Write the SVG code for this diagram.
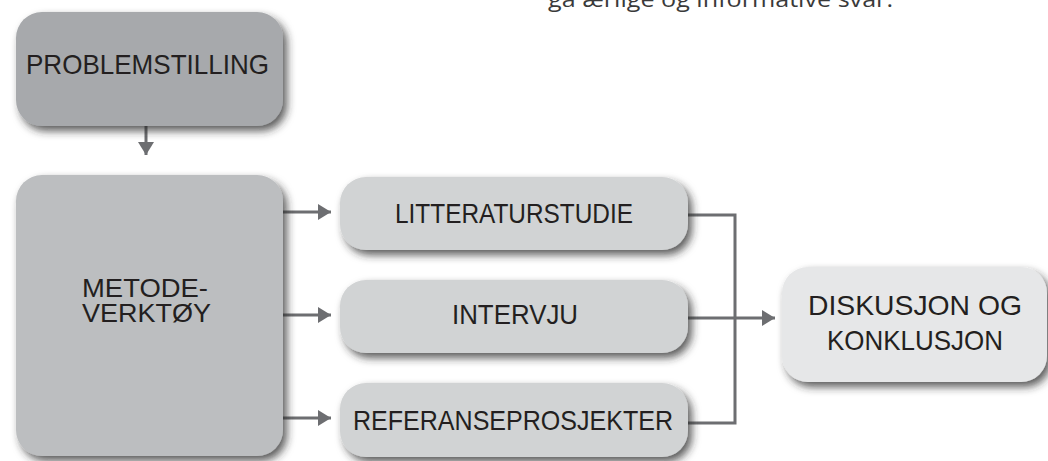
<svg xmlns="http://www.w3.org/2000/svg" width="1048" height="461" viewBox="0 0 1048 461">
<defs>
<filter id="sh" x="-10%" y="-10%" width="130%" height="140%">
<feDropShadow dx="4" dy="5" stdDeviation="4" flood-color="#2b2b2b" flood-opacity="0.75"/>
</filter>
<marker id="ah" markerUnits="userSpaceOnUse" markerWidth="15" markerHeight="17" refX="13" refY="8" orient="auto">
<path d="M0,0 L13,8 L0,16 Z" fill="#6d6e71"/>
</marker>
<style>
.t{font-family:"Liberation Sans",Arial,sans-serif;font-size:28px;fill:#231f20;}
.m{font-size:26px;}
.c{fill:none;stroke:#6d6e71;stroke-width:3;}
</style>
</defs>
<rect width="1048" height="461" fill="#ffffff"/>
<text x="548" y="7" font-family="'Open Sans',sans-serif" font-size="21" fill="#3a3a3a" textLength="345" lengthAdjust="spacingAndGlyphs">gå ærlige og informative svar.</text>
<g id="connectors">
<path class="c" d="M146,126 V155" marker-end="url(#ah)"/>
<path class="c" d="M283,212 H331" marker-end="url(#ah)"/>
<path class="c" d="M283,315 H331" marker-end="url(#ah)"/>
<path class="c" d="M283,418 H331" marker-end="url(#ah)"/>
<path class="c" d="M688,215 H735 V423 H688"/>
<path class="c" d="M688,318 H775" marker-end="url(#ah)"/>
</g>
<g id="problemstilling">
<rect x="16" y="12" width="267" height="114" rx="26" fill="#a7a9ac" filter="url(#sh)"/>
<text class="t" x="26" y="74" textLength="243" lengthAdjust="spacingAndGlyphs">PROBLEMSTILLING</text>
</g>
<g id="metodeverktoy">
<rect x="16" y="175" width="267" height="281" rx="26" fill="#bcbec0" filter="url(#sh)"/>
<text class="t m"><tspan x="82" y="297" textLength="126" lengthAdjust="spacingAndGlyphs">METODE-</tspan><tspan x="82" y="322" textLength="129" lengthAdjust="spacingAndGlyphs">VERKTØY</tspan></text>
</g>
<g id="litteraturstudie">
<rect x="340" y="177" width="348" height="73" rx="26" fill="#d1d3d4" filter="url(#sh)"/>
<text class="t" x="395" y="223" textLength="238" lengthAdjust="spacingAndGlyphs">LITTERATURSTUDIE</text>
</g>
<g id="intervju">
<rect x="340" y="280" width="348" height="73" rx="26" fill="#d1d3d4" filter="url(#sh)"/>
<text class="t" x="452" y="324" textLength="126" lengthAdjust="spacingAndGlyphs">INTERVJU</text>
</g>
<g id="referanseprosjekter">
<rect x="340" y="383" width="348" height="74" rx="26" fill="#d1d3d4" filter="url(#sh)"/>
<text class="t" x="353" y="430" textLength="320" lengthAdjust="spacingAndGlyphs">REFERANSEPROSJEKTER</text>
</g>
<g id="diskusjon">
<rect x="782" y="267" width="265" height="115" rx="26" fill="#e6e7e8" filter="url(#sh)"/>
<text class="t"><tspan x="808" y="315" textLength="214" lengthAdjust="spacingAndGlyphs">DISKUSJON OG</tspan><tspan x="827" y="350" textLength="176" lengthAdjust="spacingAndGlyphs">KONKLUSJON</tspan></text>
</g>
</svg>
